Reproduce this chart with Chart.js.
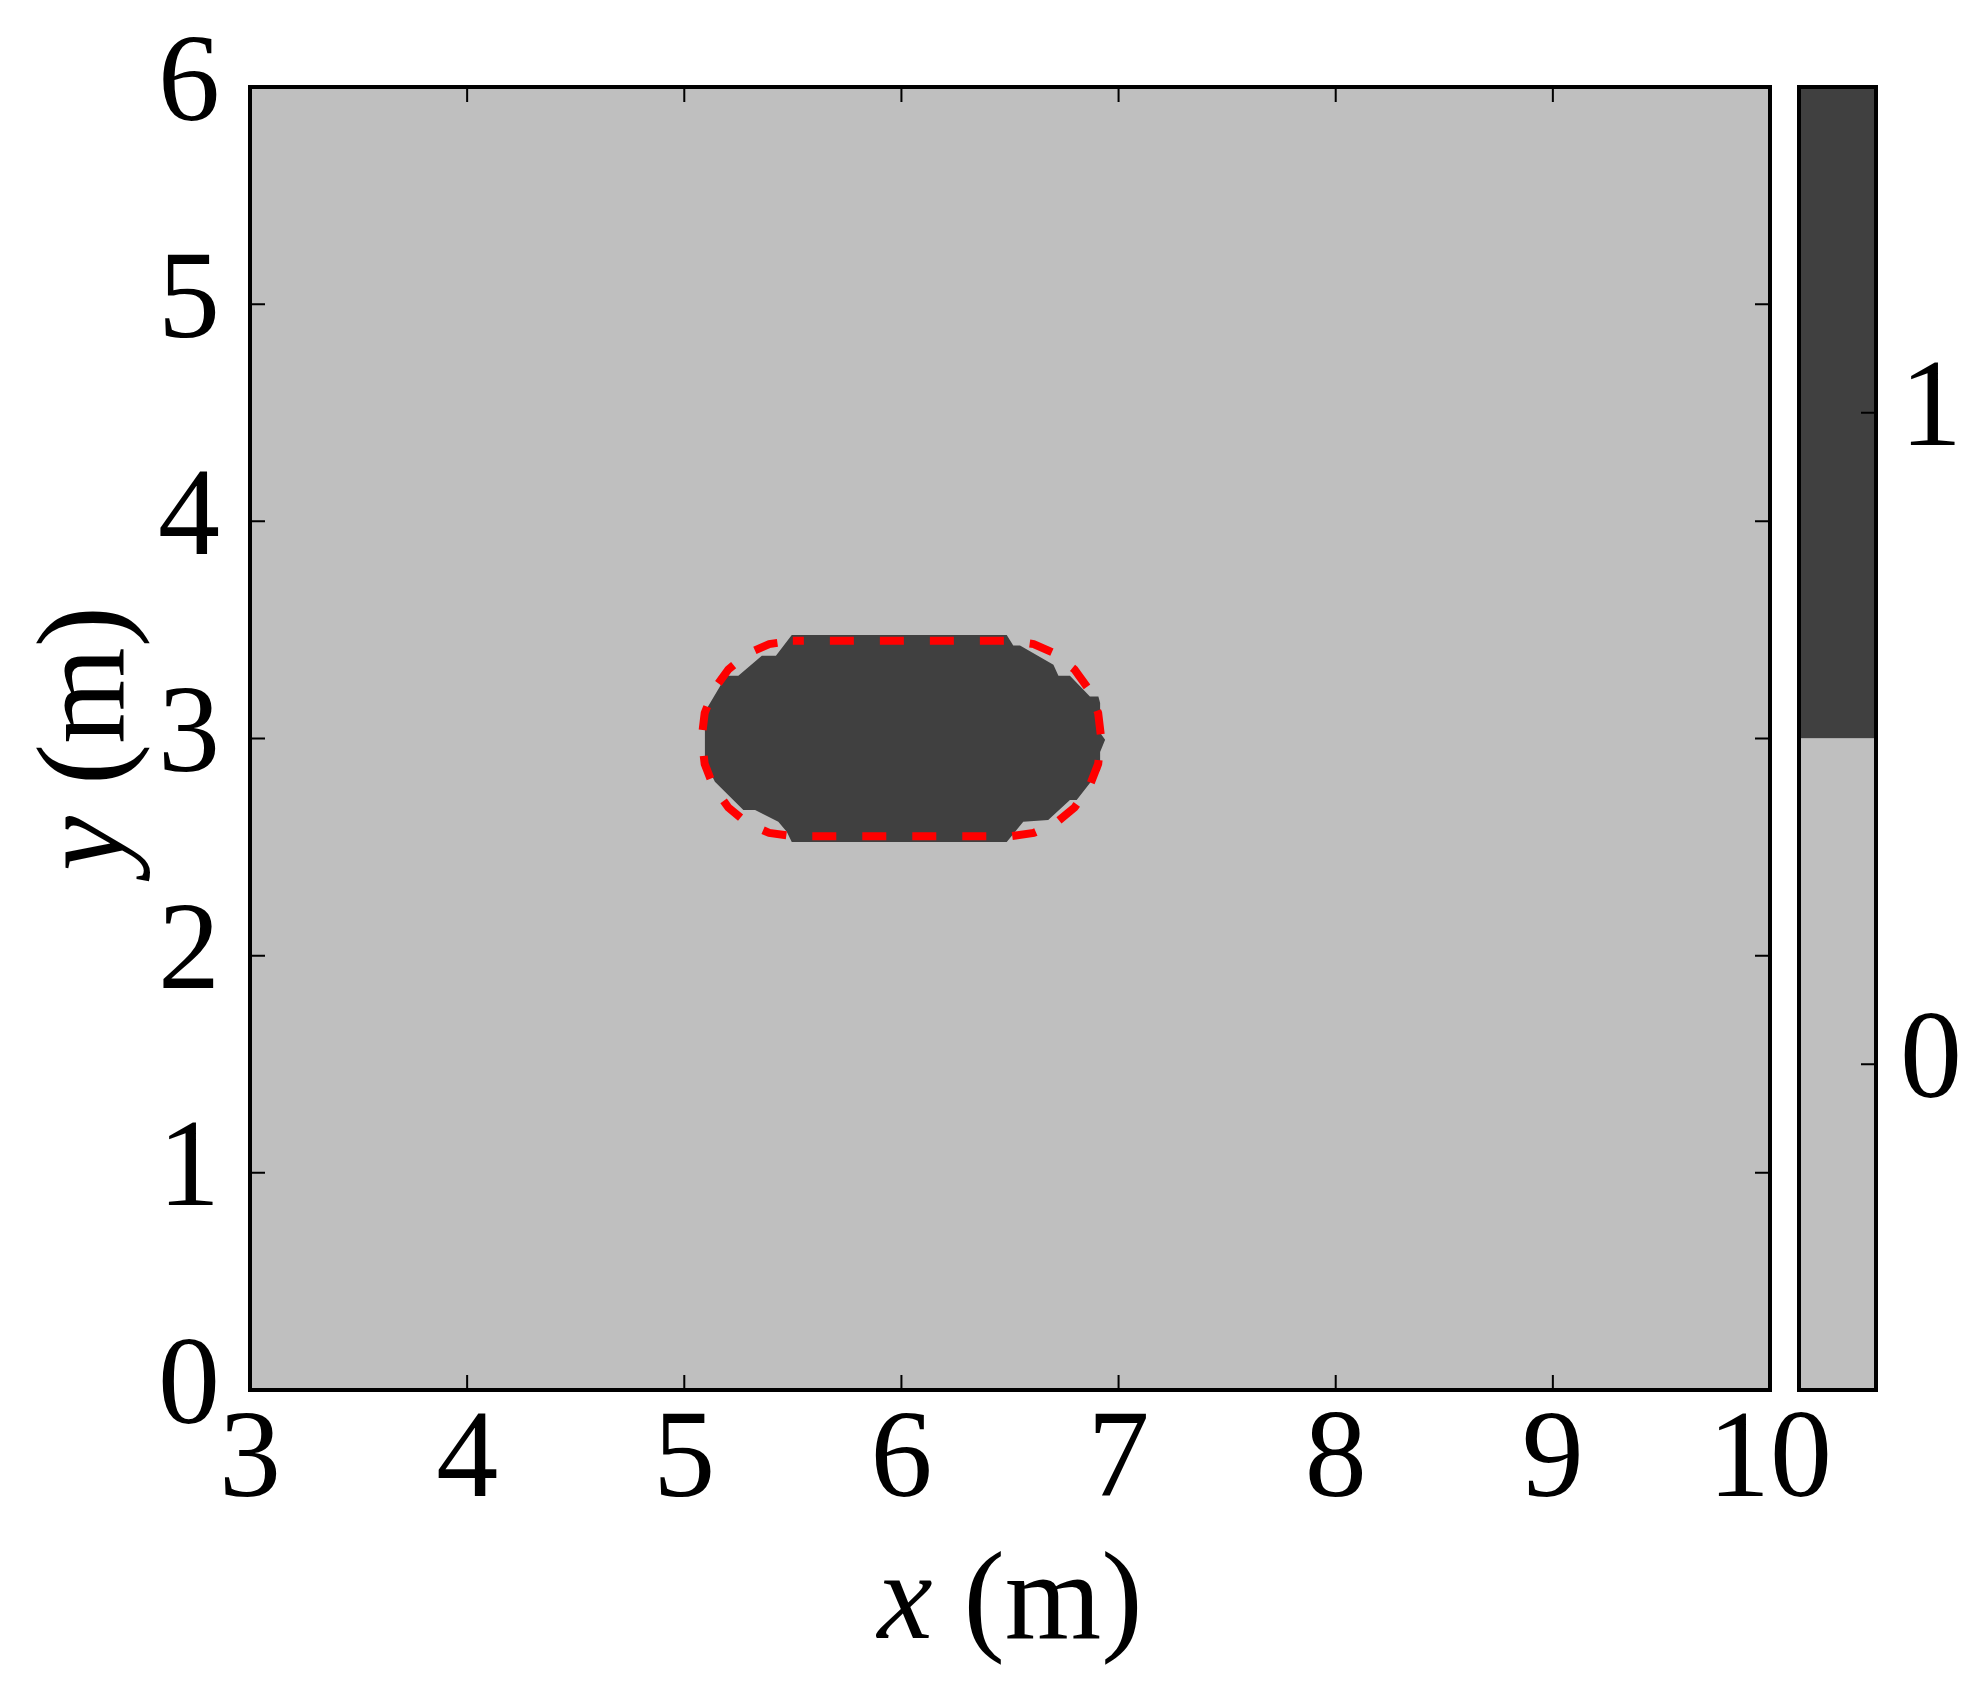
<!DOCTYPE html>
<html>
<head>
<meta charset="utf-8">
<script src="https://cdn.jsdelivr.net/npm/chart.js@4.4.1/dist/chart.umd.min.js"></script>
<style>
  html, body { margin: 0; padding: 0; background: #fff; }
  #wrap { position: relative; width: 1985px; height: 1691px; }
  .box { position: absolute; top: 0; }
</style>
</head>
<body>
<div id="wrap">
  <div class="box" style="left:0;width:1985px;height:1691px"><canvas id="main"></canvas></div>
  <div class="box" style="left:1780px;width:205px;height:1691px"><canvas id="cbar"></canvas></div>
</div>
<script>
const xTicks = [3, 4, 5, 6, 7, 8, 9, 10];
const yTicks = [0, 1, 2, 3, 4, 5, 6];

// dark region (class 1)
const blobX = [5.495, 6.485, 6.515, 6.546, 6.70, 6.723, 6.776, 6.868, 6.907, 6.915, 6.915, 6.938, 6.915, 6.915,
               6.807, 6.776, 6.676, 6.561, 6.485, 5.495, 5.472, 5.433, 5.326, 5.272, 5.141, 5.095, 5.095,
               5.164, 5.192, 5.249, 5.357, 5.422, 5.495];
const blobY = [3.477, 3.477, 3.428, 3.428, 3.34, 3.289, 3.289, 3.193, 3.193, 3.164, 3.026, 2.994, 2.938, 2.855,
               2.717, 2.717, 2.625, 2.617, 2.523, 2.523, 2.571, 2.617, 2.671, 2.671, 2.801, 2.893, 3.123,
               3.239, 3.289, 3.289, 3.381, 3.381, 3.477];

// red dashed outline
const outlineX = [5.5, 6.5, 6.609, 6.71, 6.797, 6.864, 6.906, 6.92, 6.906, 6.864, 6.797, 6.71, 6.609, 6.5,
                  5.5, 5.391, 5.29, 5.203, 5.136, 5.094, 5.08, 5.094, 5.136, 5.203, 5.29, 5.391, 5.5];
const outlineY = [3.45, 3.45, 3.435, 3.39, 3.318, 3.225, 3.117, 3.0, 2.883, 2.775, 2.682, 2.61, 2.565, 2.55,
                  2.55, 2.565, 2.61, 2.682, 2.775, 2.883, 3.0, 3.117, 3.225, 3.318, 3.39, 3.435, 3.45];

const cbarTicks = [0, 1];
const cbarBounds = [[-0.5, 0.5], [0.5, 1.5]];
const cbarColors = ['#bfbfbf', '#404040'];

const FAM = "'Liberation Serif', 'Times New Roman', Tinos, serif";
const FS = 124;
const tickFont = { family: FAM, size: FS, lineHeight: 0.8 };

function pts(xs, ys) { return xs.map((x, i) => ({ x: x, y: ys[i] })); }

const mainFrame = {
  id: 'mainFrame',
  beforeDatasetsDraw(chart) {
    const { ctx, chartArea: a } = chart;
    ctx.save();
    ctx.fillStyle = '#bfbfbf';
    ctx.fillRect(a.left, a.top, a.width, a.height);
    ctx.restore();
  },
  afterDatasetsDraw(chart) {
    const { ctx, chartArea: a, scales } = chart;
    ctx.save();
    ctx.strokeStyle = '#000';
    ctx.lineWidth = 2;
    ctx.beginPath();
    xTicks.forEach(v => {
      const px = scales.x.getPixelForValue(v);
      ctx.moveTo(px, a.bottom); ctx.lineTo(px, a.bottom - 15);
      ctx.moveTo(px, a.top); ctx.lineTo(px, a.top + 15);
    });
    yTicks.forEach(v => {
      const py = scales.y.getPixelForValue(v);
      ctx.moveTo(a.left, py); ctx.lineTo(a.left + 15, py);
      ctx.moveTo(a.right, py); ctx.lineTo(a.right - 15, py);
    });
    ctx.stroke();
    ctx.lineWidth = 4;
    ctx.strokeRect(a.left, a.top, a.width, a.height);

    // axis titles: italic variable + upright unit
    const drawTitle = (v, unit) => {
      ctx.font = 'italic ' + FS + 'px ' + FAM;
      const w1 = ctx.measureText(v).width;
      ctx.font = FS + 'px ' + FAM;
      const w2 = ctx.measureText(unit).width;
      const x0 = -(w1 + w2) / 2;
      ctx.textBaseline = 'middle';
      ctx.textAlign = 'left';
      ctx.fillStyle = '#000';
      ctx.font = 'italic ' + FS + 'px ' + FAM;
      ctx.fillText(v, x0, 0);
      ctx.font = FS + 'px ' + FAM;
      ctx.fillText(unit, x0 + w1, 0);
    };
    ctx.save();
    ctx.translate((a.left + a.right) / 2, 1605);
    drawTitle('x', ' (m)');
    ctx.restore();
    ctx.save();
    ctx.translate(90, (a.top + a.bottom) / 2);
    ctx.rotate(-Math.PI / 2);
    drawTitle('y', ' (m)');
    ctx.restore();
    ctx.restore();
  }
};

const cbarFrame = {
  id: 'cbarFrame',
  afterDatasetsDraw(chart) {
    const { ctx, chartArea: a, scales } = chart;
    ctx.save();
    ctx.strokeStyle = '#000';
    ctx.lineWidth = 2;
    ctx.beginPath();
    cbarTicks.forEach(v => {
      const py = scales.y.getPixelForValue(v);
      ctx.moveTo(a.right, py); ctx.lineTo(a.right - 15, py);
    });
    ctx.stroke();
    ctx.lineWidth = 4;
    ctx.strokeRect(a.left, a.top, a.width, a.height);
    ctx.restore();
  }
};

function build() {
  new Chart(document.getElementById('main'), {
    type: 'scatter',
    data: {
      datasets: [{
        data: pts(blobX, blobY),
        order: 2,
        showLine: true,
        fill: 'shape',
        backgroundColor: '#404040',
        borderColor: '#404040',
        borderWidth: 0,
        pointRadius: 0,
        tension: 0
      }, {
        data: pts(outlineX, outlineY),
        order: 1,
        showLine: true,
        fill: false,
        borderColor: '#ff0000',
        borderWidth: 8,
        borderDash: [24, 26],
        borderDashOffset: 13,
        pointRadius: 0,
        tension: 0
      }]
    },
    options: {
      responsive: true,
      maintainAspectRatio: false,
      animation: false,
      layout: { padding: { left: 0, top: 87, right: 215, bottom: 0 } },
      plugins: { legend: { display: false }, tooltip: { enabled: false } },
      scales: {
        x: {
          type: 'linear', min: 3, max: 10,
          afterBuildTicks: s => { s.ticks = xTicks.map(v => ({ value: v })); },
          afterFit: s => { s.height = 301; },
          ticks: { font: tickFont, color: '#000', padding: 24, maxRotation: 0, autoSkip: false },
          grid: { display: false, drawTicks: false },
          border: { display: false }
        },
        y: {
          type: 'linear', min: 0, max: 6,
          afterBuildTicks: s => { s.ticks = yTicks.map(v => ({ value: v })); },
          afterFit: s => { s.width = 250; },
          ticks: { font: tickFont, color: '#000', padding: 30, autoSkip: false },
          grid: { display: false, drawTicks: false },
          border: { display: false }
        }
      }
    },
    plugins: [mainFrame]
  });

  new Chart(document.getElementById('cbar'), {
    type: 'bar',
    data: {
      labels: [''],
      datasets: cbarBounds.map((b, i) => ({
        data: [b],
        backgroundColor: cbarColors[i],
        borderWidth: 0,
        barPercentage: 1,
        categoryPercentage: 1,
        grouped: false
      }))
    },
    options: {
      responsive: true,
      maintainAspectRatio: false,
      animation: false,
      layout: { padding: { left: 19, top: 87, right: 0, bottom: 301 } },
      plugins: { legend: { display: false }, tooltip: { enabled: false } },
      scales: {
        x: { display: false },
        y: {
          position: 'right', min: -0.5, max: 1.5,
          afterBuildTicks: s => { s.ticks = cbarTicks.map(v => ({ value: v })); },
          afterFit: s => { s.width = 109; },
          ticks: { font: tickFont, color: '#000', padding: 24 },
          grid: { display: false, drawTicks: false },
          border: { display: false }
        }
      }
    },
    plugins: [cbarFrame]
  });
}

Promise.all([
  document.fonts.load("124px 'Liberation Serif'"),
  document.fonts.load("italic 124px 'Liberation Serif'")
]).then(build, build);
</script>
</body>
</html>
